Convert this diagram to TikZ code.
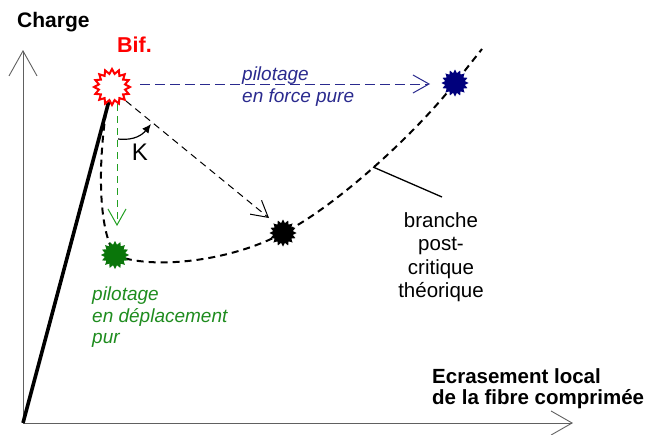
\documentclass[tikz,border=0pt]{standalone}
\usepackage{fontspec}
\setmainfont{Liberation Sans}
\usetikzlibrary{shapes.geometric,arrows.meta}
\definecolor{bifred}{HTML}{FF0000}
\definecolor{pblue}{HTML}{2A2A8E}
\definecolor{sblue}{HTML}{00007C}
\definecolor{pgreen}{HTML}{1E8C1E}
\definecolor{agreen}{HTML}{22A022}
\definecolor{sgreen}{HTML}{0A760A}
\definecolor{axisgray}{HTML}{606060}
\tikzset{
  axisline/.style={draw=axisgray, line width=0.9pt},
  spark/.style={star, star points=16, star point ratio=1.35, inner sep=0pt, minimum size=27pt},
  txt/.style={inner sep=0pt, text=black},
  barb/.style={-{Straight Barb[length=16pt,width=18pt]}},
  thinarrow/.style={line width=1pt, dash pattern=on 7pt off 5pt, barb},
}
\begin{document}
\begin{tikzpicture}[x=1pt,y=-1pt]
\useasboundingbox (0,0) rectangle (659,434);
% axes
\coordinate (O) at (23,423);
\coordinate (ytop) at (23,50);
\coordinate (xend) at (573,423);
\draw[axisline, -{Straight Barb[length=25pt,width=28pt]}] (O) -- (ytop);
\draw[axisline, -{Straight Barb[length=21pt,width=24pt]}] (O) -- (xend);
% curve coordinates
\coordinate (c0) at (108,100);
\coordinate (cg) at (115,255);
\coordinate (cb) at (283,233);
\coordinate (cu) at (455,83);
\coordinate (cend) at (482,49);
% elastic branch
\coordinate (top) at (110,97);
\draw[line width=3.6pt] (O) -- (top);
% post-critical branch
\draw[line width=2pt, dash pattern=on 7pt off 5pt]
  (c0) .. controls (99,150) and (96,225) .. (cg)
       .. controls (150,270) and (230,262) .. (cb)
       .. controls (330,210) and (410,140) .. (cu)
       -- (cend);
% arrows
\coordinate (bs) at (140,84);
\coordinate (be) at (430,84);
\draw[pblue, line width=1pt, dash pattern=on 10pt off 5pt, barb] (bs) -- (be);
\coordinate (ks) at (126,101);
\coordinate (ke) at (269,218);
\draw[thinarrow] (ks) -- (ke);
\coordinate (gs) at (117,104);
\coordinate (ge) at (117,226);
\draw[thinarrow, draw=agreen] (gs) -- (ge);
% K arc
\coordinate (k1) at (118,139);
\coordinate (k2) at (151,124);
\draw[line width=1.2pt, -{Latex[length=9pt,width=8pt]}] (k1) .. controls (135,141) and (143,134) .. (k2);
\node[txt, font=\fontsize{24}{28}\selectfont] (K) at (140,152) {K};
% stars
\node[spark, draw=bifred, fill=white, line width=2pt, minimum size=36pt] (bif) at (112,87) {};
\node[spark, fill=sblue] (fblue) at (cu) {};
\node[spark, fill=black] (fblack) at (cb) {};
\node[spark, fill=sgreen, minimum size=28pt] (fgreen) at (cg) {};
% leader
\coordinate (l1) at (373,167);
\coordinate (l2) at (442,197);
\draw[line width=1.3pt] (l1) -- (l2);
% texts
\node[txt, anchor=north west, font=\fontsize{21}{24}\selectfont\bfseries] (charge) at (17,12) {Charge};
\node[txt, anchor=north west, text=bifred, font=\fontsize{21.5}{24}\selectfont\bfseries] (biflbl) at (117,37) {Bif.};
\node[txt, anchor=north west, align=left, text=pblue, font=\fontsize{19}{22}\selectfont\itshape] (ftxt) at (242,67) {pilotage\\en force pure};
\node[txt, anchor=north west, align=left, text=pgreen, font=\fontsize{19}{21.5}\selectfont\itshape] (dtxt) at (92,287) {pilotage\\en d\'eplacement\\pur};
\node[txt, anchor=north, align=center, font=\fontsize{20.5}{23.5}\selectfont] (btxt) at (441,212) {branche\\post-\\critique\\th\'eorique};
\node[txt, anchor=north west, align=left, font=\fontsize{20.5}{21.5}\selectfont\bfseries] (etxt) at (432,368) {Ecrasement local\\de la fibre comprim\'ee};
\end{tikzpicture}
\end{document}
